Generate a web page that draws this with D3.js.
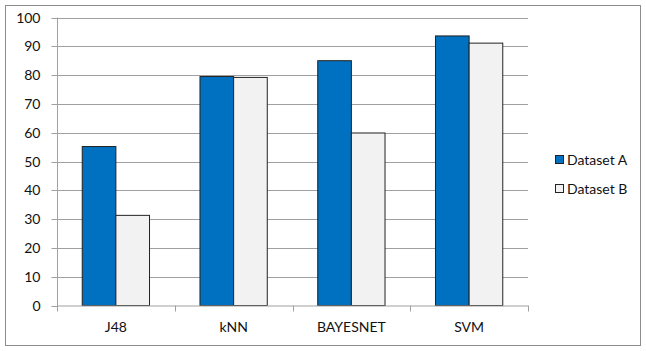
<!DOCTYPE html>
<html><head><meta charset="utf-8">
<script src="https://cdn.jsdelivr.net/npm/d3@7"></script>
<style>body{margin:0;background:#fff}</style>
</head><body>
<svg id="c" width="646" height="351"></svg>
<script>
const categories = ["J48", "kNN", "BAYESNET", "SVM"];
const seriesNames = ["Dataset A", "Dataset B"];
const datasetA = [55.2, 79.5, 85.0, 93.6];
const datasetB = [31.3, 79.2, 59.9, 91.1];
const yTicks = [0, 10, 20, 30, 40, 50, 60, 70, 80, 90, 100];

const colors = ["#0070C0", "#F2F2F2"];
const font = "Lato, 'Open Sans', sans-serif";
const svg = d3.select("#c");
const m = {l: 57, r: 528, t: 17.5, b: 305.5};

svg.append("rect").attr("x", 5.5).attr("y", 5.5).attr("width", 635).attr("height", 340)
  .attr("fill", "#fff").attr("stroke", "#8c8c8c").attr("stroke-width", 1);

const x = d3.scaleBand().domain(categories).range([m.l, m.r]).paddingInner(0).paddingOuter(0);
const y = d3.scaleLinear().domain([0, 100]).range([m.b, m.t]);

// gridlines
svg.append("g").selectAll("line").data(yTicks.filter(d => d > 0)).join("line")
  .attr("x1", m.l).attr("x2", m.r).attr("y1", d => Math.round(y(d)) + 0.5).attr("y2", d => Math.round(y(d)) + 0.5)
  .attr("stroke", "#a0a0a0").attr("stroke-width", 1);

// y axis
const ya = svg.append("g").attr("transform", `translate(${m.l + 0.5},0)`)
  .call(d3.axisLeft(y).tickValues(yTicks).tickSize(6).tickPadding(11));
ya.select(".domain").attr("stroke", "#a0a0a0").attr("d", `M0,${m.t}V${m.b}`);
ya.selectAll(".tick line").attr("stroke", "#a0a0a0");
ya.selectAll(".tick").attr("transform", d => `translate(0,${Math.round(y(d)) + 0.5})`);
ya.selectAll("text").attr("font-family", font).attr("font-size", 14).attr("fill", "#111");

// bars
const inner = d3.scaleBand().domain([0, 1]).range([0, x.bandwidth()]).paddingOuter(0.75).paddingInner(0);
const g = svg.append("g");
categories.forEach((c, i) => {
  [datasetA[i], datasetB[i]].forEach((v, s) => {
    g.append("rect")
      .attr("x", x(c) + inner(s)).attr("y", y(v))
      .attr("width", inner.bandwidth()).attr("height", y(0) - y(v))
      .attr("fill", colors[s]).attr("stroke", "#222").attr("stroke-width", 1);
  });
});

// x axis
const xa = svg.append("g").attr("transform", `translate(0,${m.b + 0.5})`)
  .call(d3.axisBottom(x).tickSize(0).tickPadding(16));
xa.select(".domain").attr("stroke", "#a0a0a0").attr("d", `M${m.l},0H${m.r}`);
xa.selectAll("text").attr("font-family", font).attr("font-size", 14).attr("fill", "#111");
const xt = svg.append("g");
const bounds = categories.map(c => x(c)).concat([m.r]);
xt.selectAll("line").data(bounds).join("line")
  .attr("x1", d => Math.round(d) + 0.5).attr("x2", d => Math.round(d) + 0.5)
  .attr("y1", m.b).attr("y2", m.b + 6).attr("stroke", "#a0a0a0");

// legend
const lg = svg.append("g");
seriesNames.forEach((n, i) => {
  const yy = 160 + i * 29;
  lg.append("rect").attr("x", 555.5).attr("y", yy - 4.5).attr("width", 8).attr("height", 8)
    .attr("fill", colors[i]).attr("stroke", "#222");
  lg.append("text").attr("x", 567).attr("y", yy).attr("dy", "0.35em")
    .attr("font-family", font).attr("font-size", 14).attr("fill", "#111").text(n);
});
</script>
</body></html>
